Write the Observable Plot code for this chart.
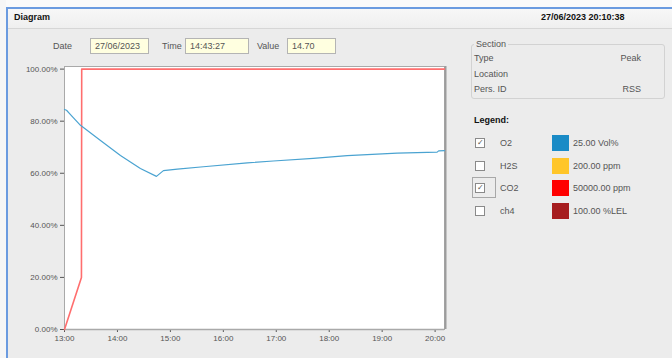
<!DOCTYPE html>
<html>
<head>
<meta charset="utf-8">
<script src="https://cdn.jsdelivr.net/npm/d3@7"></script>
<script src="https://cdn.jsdelivr.net/npm/@observablehq/plot@0.6"></script>
<style>
  html,body{margin:0;padding:0;}
  body{width:672px;height:358px;background:#ececec;position:relative;overflow:hidden;
       font-family:"Liberation Sans",Arial,sans-serif;font-size:9px;color:#333;}
  .abs{position:absolute;}
  #topwhite{left:0;top:0;width:672px;height:7px;background:#fafafa;}
  #leftwhite{left:0;top:0;width:6px;height:358px;background:#f6f6f6;}
  #topline{left:6px;top:7px;width:666px;height:2px;background:#6b9be0;}
  #leftline{left:6px;top:7px;width:2px;height:351px;background:#6b9be0;}
  #titlebar{left:8px;top:9px;width:664px;height:19px;background:linear-gradient(#f7f7f7,#efefef);border-bottom:1px solid #d6d6d6;}
  .bold{font-weight:bold;color:#111;}
  .box{background:#ffffe0;border:1px solid #b4b4b4;box-sizing:border-box;height:16px;line-height:14px;padding-left:4px;color:#555;}
  .lbl{color:#555;line-height:12px;}
  #section{left:471px;top:44px;width:194px;height:55px;border:1px solid #d2d2d2;border-radius:3px;box-sizing:border-box;}
  .cb{width:8px;height:8px;border:1px solid #8a8a8a;background:#fff;box-sizing:content-box;font-size:8px;line-height:8px;text-align:center;color:#555;}
  .sw{width:17px;height:16px;}
  #plotwrap{left:0;top:56px;}
</style>
</head>
<body>
<div class="abs" id="topwhite"></div>
<div class="abs" id="leftwhite"></div>
<div class="abs" id="titlebar"></div>
<div class="abs" id="topline"></div>
<div class="abs" id="leftline"></div>

<div class="abs bold" style="left:14px;top:12px;font-size:9px;">Diagram</div>
<div class="abs bold" id="nowtxt" style="left:541px;top:12px;font-size:9px;"></div>

<div class="abs lbl" style="left:53px;top:40px;">Date</div>
<div class="abs box" id="datebox" style="left:90px;top:38px;width:59px;"></div>
<div class="abs lbl" style="left:162px;top:40px;">Time</div>
<div class="abs box" id="timebox" style="left:185px;top:38px;width:64px;"></div>
<div class="abs lbl" style="left:257px;top:40px;">Value</div>
<div class="abs box" id="valbox" style="left:287px;top:38px;width:49px;"></div>

<div class="abs" id="section"></div>
<div class="abs lbl" style="left:474px;top:38px;background:#ececec;padding:0 2px;">Section</div>
<div id="sectionRows"></div>
<div class="abs bold" style="left:474px;top:115px;">Legend:</div>
<div id="legendRows"></div>

<div class="abs" id="plotwrap"></div>

<script>
// ---- data ----
const headerDate = "27/06/2023";
const headerNow = "27/06/2023 20:10:38";
const cursorTime = "14:43:27";
const cursorValue = "14.70";

const sectionLabels = ["Type", "Location", "Pers. ID"];
const sectionValues = ["Peak", "", "RSS"];

const gasNames = ["O2", "H2S", "CO2", "ch4"];
const gasChecked = [true, false, true, false];
const gasColors = ["#1a8bc6", "#ffc629", "#ff0000", "#a61d1f"];
const gasRanges = ["25.00 Vol%", "200.00 ppm", "50000.00 ppm", "100.00 %LEL"];

const xTickLabels = ["13:00","14:00","15:00","16:00","17:00","18:00","19:00","20:00"];
const yTickValues = [0, 20, 40, 60, 80, 100];

// minutes after 13:00
const o2Minutes = [0, 2.3, 6.8, 18.1, 40.8, 63.4, 86, 104.2, 112.1, 127.9, 157.4, 207.2, 236.6, 281.9, 320.4, 377, 422.3, 424, 430.6];
const o2Values  = [84.5, 84.2, 82.5, 78.4, 72.6, 66.8, 61.8, 58.8, 61.0, 61.6, 62.5, 64.0, 64.7, 65.7, 66.8, 67.7, 68.1, 68.6, 68.7];

const co2Minutes = [0, 19.2, 19.5, 430.6];
const co2Values  = [0, 20, 100, 100];

// ---- HTML parts ----
document.getElementById("nowtxt").textContent = headerNow;
document.getElementById("datebox").textContent = headerDate;
document.getElementById("timebox").textContent = cursorTime;
document.getElementById("valbox").textContent = cursorValue;

const sr = document.getElementById("sectionRows");
sectionLabels.forEach((l, i) => {
  const y = 52 + i * 15.5;
  sr.insertAdjacentHTML("beforeend",
    `<div class="abs lbl" style="left:474px;top:${y}px;">${l}</div>` +
    `<div class="abs lbl" style="left:600px;width:41px;text-align:right;top:${y}px;">${sectionValues[i]}</div>`);
});

const lr = document.getElementById("legendRows");
gasNames.forEach((g, i) => {
  const y = 143 + i * 22.5;
  lr.insertAdjacentHTML("beforeend",
    `<div class="abs cb" style="left:475px;top:${y - 5}px;">${gasChecked[i] ? "✓" : ""}</div>` +
    `<div class="abs lbl" style="left:500px;top:${y - 6}px;">${g}</div>` +
    `<div class="abs sw" style="left:552px;top:${y - 8}px;background:${gasColors[i]};"></div>` +
    `<div class="abs lbl" style="left:573px;top:${y - 6}px;">${gasRanges[i]}</div>`);
  if (g === "CO2") {
    lr.insertAdjacentHTML("beforeend",
      `<div class="abs" style="left:472px;top:${y - 11}px;width:24px;height:21px;border:1px solid #a8a8a8;box-sizing:border-box;"></div>`);
  }
});

// ---- chart ----
const t0 = Date.UTC(2023, 5, 27, 13, 0, 0);
const toDate = m => new Date(t0 + m * 60000);
const parseHM = s => { const [h, m] = s.split(":").map(Number); return new Date(Date.UTC(2023, 5, 27, h, m)); };
const xEnd = parseHM("20:10");
xEnd.setUTCSeconds(38);

const o2 = o2Minutes.map((m, i) => ({t: toDate(m), v: o2Values[i]}));
const co2 = co2Minutes.map((m, i) => ({t: toDate(m), v: co2Values[i]}));

const chart = Plot.plot({
  width: 460,
  height: 300,
  marginLeft: 64,
  marginRight: 16,
  marginTop: 10,
  marginBottom: 27,
  style: {background: "transparent", fontFamily: "'Liberation Sans', Arial, sans-serif", fontSize: "8px", color: "#555", overflow: "visible"},
  x: {type: "utc", domain: [toDate(0), xEnd], ticks: xTickLabels.map(parseHM), tickFormat: d3.utcFormat("%H:%M"), tickSize: 3, tickPadding: 3, label: null},
  y: {domain: [0, 101], ticks: yTickValues, tickFormat: d => d.toFixed(2) + "%", tickSize: 4, tickPadding: 3, label: null},
  marks: [
    Plot.frame({fill: "white", stroke: "#a9a9a9"}),
    Plot.ruleX([xEnd], {stroke: "#9c9c9c", strokeWidth: 2, dx: 1}),
    Plot.ruleY([0], {stroke: "#a9a9a9", strokeWidth: 1.5}),
    Plot.line(co2, {x: "t", y: "v", stroke: "#ff6e6e", strokeWidth: 1.6}),
    Plot.line(o2, {x: "t", y: "v", stroke: "#4aa3d1", strokeWidth: 1.2})
  ]
});
document.getElementById("plotwrap").appendChild(chart);
</script>
</body>
</html>
